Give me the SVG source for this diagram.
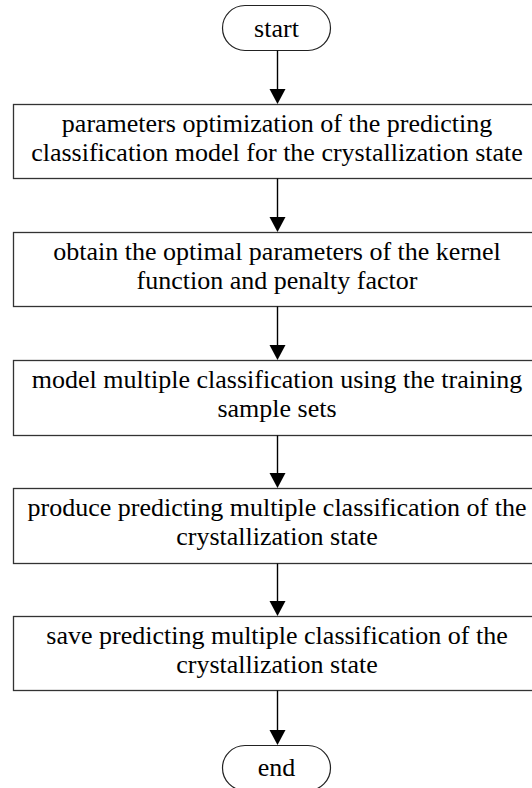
<svg xmlns="http://www.w3.org/2000/svg" width="532" height="788" viewBox="0 0 532 788">
  <style>
    .box { fill: #ffffff; stroke: #333333; stroke-width: 1.3; }
    .term { fill: #ffffff; stroke: #222222; stroke-width: 1.2; }
    .lbl { font-family: "Liberation Serif", "Times New Roman", serif; font-size: 26px; fill: #000000; text-anchor: middle; }
    .flow { stroke: #000000; stroke-width: 1.4; fill: none; }
    .head { fill: #000000; }
  </style>
  <rect width="532" height="788" fill="#ffffff"/>

  <g id="start">
    <rect class="term" x="222.5" y="5.5" width="108" height="45" rx="22.5" ry="22.5"/>
    <text class="lbl" x="276.5" y="36.5">start</text>
  </g>

  <g id="step1">
    <rect class="box" x="13.5" y="104.5" width="528" height="74"/>
    <text class="lbl" x="277" y="131.5">parameters optimization of the predicting</text>
    <text class="lbl" x="277" y="160.5">classification model for the crystallization state</text>
  </g>

  <g id="step2">
    <rect class="box" x="13.5" y="232.5" width="528" height="74"/>
    <text class="lbl" x="277" y="259.5">obtain the optimal parameters of the kernel</text>
    <text class="lbl" x="277" y="288.5">function and penalty factor</text>
  </g>

  <g id="step3">
    <rect class="box" x="13.5" y="360.5" width="528" height="75"/>
    <text class="lbl" x="277" y="387.5">model multiple classification using the training</text>
    <text class="lbl" x="277" y="416.5">sample sets</text>
  </g>

  <g id="step4">
    <rect class="box" x="13.5" y="488.5" width="528" height="75"/>
    <text class="lbl" x="277" y="515.5">produce predicting multiple classification of the</text>
    <text class="lbl" x="277" y="544.5">crystallization state</text>
  </g>

  <g id="step5">
    <rect class="box" x="13.5" y="616.5" width="528" height="74"/>
    <text class="lbl" x="277" y="643.5">save predicting multiple classification of the</text>
    <text class="lbl" x="277" y="672.5">crystallization state</text>
  </g>

  <g id="end">
    <rect class="term" x="222.5" y="745.5" width="108" height="45" rx="22.5" ry="22.5"/>
    <text class="lbl" x="276.5" y="775.5">end</text>
  </g>

  <g id="connectors">
    <line class="flow" x1="277.5" y1="50.5" x2="277.5" y2="92"/>
    <polygon class="head" points="269.5,89 285.5,89 277.5,104"/>
    <line class="flow" x1="277.5" y1="178.5" x2="277.5" y2="220"/>
    <polygon class="head" points="269.5,217 285.5,217 277.5,232"/>
    <line class="flow" x1="277.5" y1="306.5" x2="277.5" y2="348"/>
    <polygon class="head" points="269.5,345 285.5,345 277.5,360"/>
    <line class="flow" x1="277.5" y1="435.5" x2="277.5" y2="476"/>
    <polygon class="head" points="269.5,473 285.5,473 277.5,488"/>
    <line class="flow" x1="277.5" y1="563.5" x2="277.5" y2="604"/>
    <polygon class="head" points="269.5,601 285.5,601 277.5,616"/>
    <line class="flow" x1="277.5" y1="690.5" x2="277.5" y2="733"/>
    <polygon class="head" points="269.5,730 285.5,730 277.5,745"/>
  </g>
</svg>
